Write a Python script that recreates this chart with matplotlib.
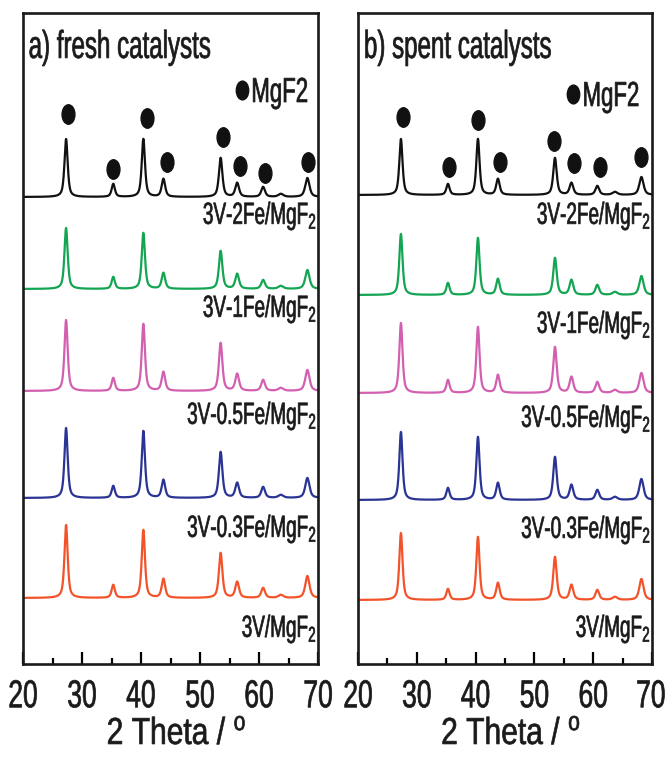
import numpy as np
import matplotlib
matplotlib.use('Agg')
import matplotlib.pyplot as plt
import matplotlib.patheffects as pe
from matplotlib.path import Path
from matplotlib.transforms import Affine2D, ScaledTranslation

plt.rcParams['font.family'] = ['Liberation Sans', 'DejaVu Sans']
plt.rcParams['mathtext.fontset'] = 'custom'
plt.rcParams['mathtext.rm'] = 'Liberation Sans'
plt.rcParams['mathtext.it'] = 'Liberation Sans:italic'
plt.rcParams['mathtext.bf'] = 'Liberation Sans:bold'
plt.rcParams['mathtext.default'] = 'regular'

# MgF2 reflections, 2 theta (deg) and widths
peak_pos = [27.3, 35.3, 40.4, 43.8, 53.5, 56.3, 60.7, 63.7, 68.2]
peak_fwhm = [0.65, 0.65, 0.65, 0.7, 0.7, 0.75, 0.75, 1.0, 0.85]

sample_labels = ['3V-2Fe/MgF$_2$', '3V-1Fe/MgF$_2$', '3V-0.5Fe/MgF$_2$',
                 '3V-0.3Fe/MgF$_2$', '3V/MgF$_2$']

# peak intensities (a.u.) per sample, fresh catalysts
fresh_2fe = [58, 13, 58, 18, 39, 14, 10, 3, 19]
fresh_1fe = [61, 12, 56, 16, 38, 15, 9, 3, 19]
fresh_05fe = [71, 13, 67, 19, 48, 17, 11, 3, 21]
fresh_03fe = [70, 12, 67, 18, 46, 15, 11, 3, 20]
fresh_3v = [73, 13, 68, 19, 45, 16, 10, 3, 22]

# peak intensities (a.u.) per sample, spent catalysts
spent_2fe = [56, 11, 56, 16, 37, 12, 9, 3, 18]
spent_1fe = [61, 12, 57, 16, 37, 15, 10, 3, 19]
spent_05fe = [70, 13, 66, 18, 46, 16, 11, 3, 20]
spent_03fe = [68, 12, 63, 17, 43, 15, 10, 3, 21]
spent_3v = [67, 11, 63, 17, 43, 15, 10, 3, 21]

colors = ['#111111', '#13a552', '#d35fb1', '#2a3494', '#f2532b']
ink = '#1a1a1a'


def profile(x, heights):
    y = np.zeros_like(x)
    for c, h, w in zip(peak_pos, heights, peak_fwhm):
        d = (x - c) / (w / 2)
        y += h * (0.65 / (1 + d ** 2) + 0.35 * np.exp(-np.log(2) * d ** 2))
    return y


class Squeeze(pe.AbstractPathEffect):
    # narrow (and slightly embolden) the glyphs, like the condensed font of the original
    def __init__(self, sx=0.62, anchor=0.0, bold=0.5):
        super().__init__()
        self.sx = sx
        self.anchor = anchor
        self.bold = bold

    def draw_path(self, renderer, gc, tpath, affine, rgbFace=None):
        ext = tpath.get_extents()
        x0 = ext.x0 + self.anchor * ext.width
        t = Affine2D().translate(-x0, 0).scale(self.sx, 1).translate(x0, 0)
        gc0 = renderer.new_gc()
        gc0.copy_properties(gc)
        gc0.set_linewidth(self.bold)
        gc0.set_joinstyle('round')
        renderer.draw_path(gc0, tpath, t + affine, rgbFace)
        gc0.restore()


def sq(anchor, sx=0.62):
    return [Squeeze(sx, anchor)]


dot = Path.unit_circle().transformed(Affine2D().scale(0.66, 1))
x = np.linspace(20, 70, 2501)


def panel(ax, intens, bases, label_y, dot_x, dot_y, key_x, key_y, title):
    for I, b, c, lab, ly in zip(intens, bases, colors, sample_labels, label_y):
        ax.plot(x, b + profile(x, I), color=c, lw=1.6)
        ax.text(69.8, ly, lab, ha='right', va='baseline', fontsize=22,
                color=ink, path_effects=sq(1))
    ax.plot(dot_x, dot_y, ls='none', marker=dot, ms=14, color='#111111')
    ax.plot([key_x], [key_y], ls='none', marker=dot, ms=13.5, color='#111111')
    # key text, anchored at its (condensed) centre
    ax.text(key_x + 6.4, key_y - 12, 'MgF2', fontsize=25, ha='center',
            va='baseline', color=ink, path_effects=sq(0.5, 0.64))
    ax.text(0.017, 0.931, title, transform=ax.transAxes, fontsize=28,
            ha='left', va='baseline', color=ink, path_effects=sq(0))

    ax.set_xlim(20, 70)
    ax.set_ylim(0, 651)
    ax.set_yticks([])
    ax.set_xticks(range(20, 71, 10))
    ax.set_xticks(range(25, 70, 10), minor=True)
    ax.tick_params(axis='x', which='major', direction='in', length=8.6,
                   width=1.6, labelsize=28, pad=11, labelcolor=ink)
    ax.tick_params(axis='x', which='minor', direction='in', length=4.3,
                   width=1.6)
    for s in ax.spines.values():
        s.set_linewidth(1.9)
        s.set_color(ink)
    for t in ax.get_xticklabels():
        t.set_path_effects(sq(0.5, 0.68))
    ax.set_xlabel('2 Theta / $^{o}$', fontsize=27, color=ink)
    ax.xaxis.set_label_coords(0.52, -0.08)
    ax.xaxis.label.set_path_effects(sq(0.5, 0.8))


fig = plt.figure(figsize=(6.68, 7.59), dpi=100)
ax1 = fig.add_axes([23 / 668, 95 / 759, 295 / 668, 651 / 759])
ax2 = fig.add_axes([358 / 668, 95 / 759, 294 / 668, 651 / 759])

panel(ax1, [fresh_2fe, fresh_1fe, fresh_05fe, fresh_03fe, fresh_3v],
      [467, 375, 273, 166, 66], [440, 347, 240, 127, 27],
      [27.6, 35.3, 41.0, 44.4, 53.9, 56.8, 61.0, 68.3],
      [550, 495, 546, 502, 527, 498, 491, 502],
      57.1, 574, 'a) fresh catalysts')
panel(ax2, [spent_2fe, spent_1fe, spent_05fe, spent_03fe, spent_3v],
      [469, 369, 271, 164, 64], [440, 331, 237, 126, 27],
      [27.7, 35.5, 40.4, 44.1, 53.3, 56.7, 61.2, 68.1],
      [547, 497, 544, 502, 523, 501, 497, 507],
      56.6, 570, 'b) spent catalysts')

# the last tick label sits on the figure edge: anchor it by its right side
last = ax2.get_xticklabels()[-1]
last.set_ha('right')
last.set_path_effects(sq(1, 0.68))
last.set_transform(last.get_transform() + ScaledTranslation(0.14, 0, fig.dpi_scale_trans))

fig.savefig('out.png', dpi=100)
